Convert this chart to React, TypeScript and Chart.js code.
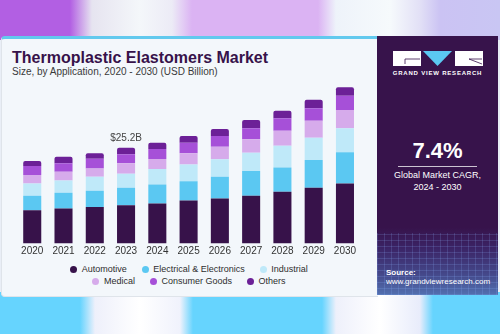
import React, { useEffect, useRef } from "react";
import { Chart, registerables } from "chart.js";

Chart.register(...registerables);

// ---- Data (USD Billion) ----
const years = ["2020", "2021", "2022", "2023", "2024", "2025", "2026", "2027", "2028", "2029", "2030"];
const automotive = [8.78, 9.23, 9.65, 10.1, 10.54, 11.33, 11.86, 12.55, 13.6, 14.66, 15.82];
const electrical = [3.77, 4.11, 4.22, 4.56, 5.01, 5.09, 5.69, 6.51, 6.43, 7.3, 8.17];
const industrial = [3.27, 3.27, 3.69, 3.69, 4.03, 4.4, 4.59, 4.82, 5.69, 5.88, 6.33];
const medical = [2.19, 2.27, 2.21, 2.74, 2.64, 2.9, 3.32, 3.53, 3.95, 4.48, 4.82];
const consumerGoods = [2.37, 2.21, 2.53, 2.37, 2.64, 2.79, 2.82, 2.9, 3.27, 3.27, 3.69];
const others = [1.32, 1.74, 1.42, 1.74, 1.66, 1.77, 1.85, 2.19, 2.0, 2.19, 2.29];

const seriesNames = ["Automotive", "Electrical & Electronics", "Industrial", "Medical", "Consumer Goods", "Others"];
const seriesColors = ["#37124a", "#5bc8f2", "#bfe9f9", "#d6abeb", "#a650d8", "#6c2097"];
const seriesValues = [automotive, electrical, industrial, medical, consumerGoods, others];

const calloutYear = "2023";
const calloutText = "$25.2B";
const yMax = 43;

const FONT = '"Liberation Sans", Arial, Helvetica, sans-serif';

const calloutPlugin = {
  id: "callout",
  afterDatasetsDraw(chart: any) {
    const idx = years.indexOf(calloutYear);
    if (idx < 0) return;
    const total = seriesValues.reduce((s, arr) => s + arr[idx], 0);
    const x = chart.scales.x.getPixelForValue(idx);
    const y = chart.scales.y.getPixelForValue(total);
    const ctx = chart.ctx;
    ctx.save();
    ctx.font = `10px ${FONT}`;
    ctx.fillStyle = "#444444";
    ctx.textAlign = "center";
    ctx.textBaseline = "alphabetic";
    ctx.fillText(calloutText, x, y - 7);
    ctx.restore();
  },
};

function BarChart() {
  const ref = useRef<HTMLCanvasElement | null>(null);
  useEffect(() => {
    if (!ref.current) return;
    const chart = new Chart(ref.current, {
      type: "bar",
      data: {
        labels: years,
        datasets: seriesNames.map((name, i) => ({
          label: name,
          data: seriesValues[i],
          backgroundColor: seriesColors[i],
          borderWidth: 0,
          borderRadius: 2,
          categoryPercentage: 1,
          barPercentage: 0.577,
        })),
      },
      options: {
        responsive: false,
        animation: false,
        devicePixelRatio: 1,
        layout: { padding: { left: 16.6, right: 17.4, top: 0, bottom: 0.4 } },
        plugins: {
          legend: { display: false },
          tooltip: { enabled: false },
          title: { display: false },
        },
        scales: {
          x: {
            stacked: true,
            offset: true,
            grid: { display: false, drawTicks: false },
            border: { display: false },
            ticks: {
              color: "#333333",
              font: { size: 10, family: FONT },
              padding: 2,
              maxRotation: 0,
              autoSkip: false,
            },
          },
          y: {
            stacked: true,
            display: false,
            min: 0,
            max: yMax,
          },
        },
      },
      plugins: [calloutPlugin],
    });
    return () => chart.destroy();
  }, []);
  return (
    <canvas
      ref={ref}
      width={378}
      height={180}
      style={{ position: "absolute", left: 0, top: 80, width: 378, height: 180 }}
    />
  );
}

const legendRows = [
  [0, 1, 2],
  [3, 4, 5],
];

export default function App() {
  return (
    <div
      style={{
        position: "fixed",
        left: 0,
        top: 0,
        width: 500,
        height: 334,
        overflow: "hidden",
        fontFamily: FONT,
        background: "#e9eef6",
      }}
    >
      {/* blurred backdrop */}
      <div
        style={{
          position: "absolute",
          left: 0,
          top: 0,
          width: 500,
          height: 40,
          background:
            "linear-gradient(90deg, #b25fe3 0px, #b25fe3 70px, #e6e4f0 92px, #f4f7fa 140px, #ecebf6 172px, #dbb3f3 192px, #dbb3f3 318px, #eef3fa 336px, #f6fafc 390px, #e2e0f6 420px, #cbc3f3 440px, #c9c6f3 500px)",
        }}
      />
      <div
        style={{
          position: "absolute",
          left: 0,
          top: 292,
          width: 500,
          height: 42,
          background:
            "linear-gradient(90deg, #66d4fe 0px, #66d4fe 80px, #eef0fb 95px, #ffffff 140px, #f0f2fc 180px, #66d4fe 193px, #66d4fe 322px, #eef0fb 336px, #ffffff 380px, #e8ecfb 420px, #66d4fe 433px, #66d4fe 500px)",
        }}
      />
      {/* card */}
      <div
        style={{
          position: "absolute",
          left: 1,
          top: 36,
          width: 377,
          height: 261,
          boxSizing: "border-box",
          background: "#f3f7fb",
          borderTop: "3px solid #62c9ee",
          borderLeft: "1px solid #dfe4ea",
          borderBottom: "1px solid #dfe4ea",
          borderRadius: "4px 0 0 4px",
        }}
      />
      <div
        style={{
          position: "absolute",
          left: 12,
          top: 49.5,
          fontSize: 16,
          lineHeight: "16px",
          fontWeight: 700,
          color: "#37124a",
          whiteSpace: "nowrap",
        }}
      >
        Thermoplastic Elastomers Market
      </div>
      <div
        style={{
          position: "absolute",
          left: 12,
          top: 67,
          fontSize: 10,
          lineHeight: "10px",
          color: "#3a3a3a",
          whiteSpace: "nowrap",
        }}
      >
        Size, by Application, 2020 - 2030 (USD Billion)
      </div>

      <BarChart />

      {legendRows.map((row, r) => (
        <div
          key={r}
          style={{
            position: "absolute",
            left: 0,
            width: 378,
            top: r === 0 ? 264 : 276,
            height: 10,
            display: "flex",
            justifyContent: "center",
            alignItems: "center",
            gap: 15,
          }}
        >
          {row.map((i) => (
            <div key={i} style={{ display: "flex", alignItems: "center" }}>
              <span
                style={{
                  display: "inline-block",
                  width: 7,
                  height: 7,
                  borderRadius: "50%",
                  background: seriesColors[i],
                  marginRight: 4.5,
                }}
              />
              <span style={{ fontSize: 9, lineHeight: "10px", color: "#2e2e2e", whiteSpace: "nowrap" }}>
                {seriesNames[i]}
              </span>
            </div>
          ))}
        </div>
      ))}

      {/* right panel */}
      <div
        style={{
          position: "absolute",
          left: 377,
          top: 36,
          width: 121,
          height: 259,
          background:
            "linear-gradient(180deg, #37134b 0%, #37134b 74%, #3b2466 82%, #44488a 92%, #5270b0 100%)",
          overflow: "hidden",
        }}
      >
        <div
          style={{
            position: "absolute",
            left: 0,
            right: 0,
            bottom: 0,
            height: 62,
            background:
              "repeating-linear-gradient(90deg, rgba(140,180,255,0.18) 0px, rgba(140,180,255,0.18) 1px, transparent 1px, transparent 7px), repeating-linear-gradient(0deg, rgba(140,180,255,0.18) 0px, rgba(140,180,255,0.18) 1px, transparent 1px, transparent 6px)",
          }}
        />
        <svg
          width={121}
          height={40}
          style={{ position: "absolute", left: 0, top: 0 }}
        >
          <rect x={16} y={15} width={28} height={15} fill="#ffffff" />
          <polyline points="43,23 28,23 28,28" fill="none" stroke="#37134b" strokeWidth={0.8} />
          <polygon points="46,15 75,15 60.5,30" fill="#5bc8f2" />
          <rect x={78} y={15} width={28} height={15} fill="#ffffff" />
          <polyline points="105,28 92,23 105,23" fill="none" stroke="#37134b" strokeWidth={0.8} />
        </svg>
        <div
          style={{
            position: "absolute",
            left: 0,
            width: 121,
            top: 34.2,
            textAlign: "center",
            fontSize: 6,
            lineHeight: "6px",
            fontWeight: 700,
            letterSpacing: 0.8,
            color: "#ffffff",
            whiteSpace: "nowrap",
          }}
        >
          GRAND VIEW RESEARCH
        </div>
        <div
          style={{
            position: "absolute",
            left: 0,
            width: 121,
            top: 103.7,
            textAlign: "center",
            fontSize: 22,
            lineHeight: "22px",
            fontWeight: 700,
            color: "#ffffff",
          }}
        >
          7.4%
        </div>
        <div
          style={{
            position: "absolute",
            left: 21,
            width: 79,
            top: 129.5,
            height: 1,
            background: "rgba(255,255,255,0.75)",
          }}
        />
        <div
          style={{
            position: "absolute",
            left: 0,
            width: 121,
            top: 134.4,
            textAlign: "center",
            fontSize: 9,
            lineHeight: "11.5px",
            color: "#ffffff",
          }}
        >
          Global Market CAGR,
          <br />
          2024 - 2030
        </div>
        <div
          style={{
            position: "absolute",
            left: 9,
            top: 232.9,
            fontSize: 8,
            lineHeight: "8px",
            fontWeight: 700,
            color: "#ffffff",
          }}
        >
          Source:
        </div>
        <div
          style={{
            position: "absolute",
            left: 9,
            top: 241.7,
            fontSize: 8,
            lineHeight: "8px",
            color: "#ffffff",
            whiteSpace: "nowrap",
          }}
        >
          www.grandviewresearch.com
        </div>
      </div>
    </div>
  );
}
